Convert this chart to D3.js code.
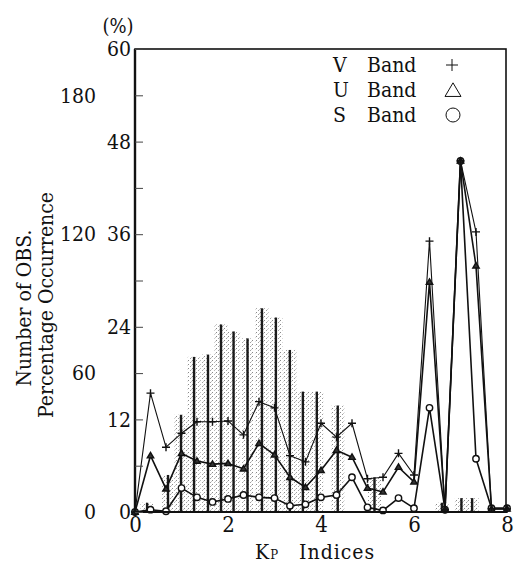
<!DOCTYPE html>
<html><head><meta charset="utf-8">
<script src="https://cdn.jsdelivr.net/npm/d3@7"></script>
<style>
html,body{margin:0;padding:0;background:#fff;}
svg text{fill:#111;font-stretch:condensed;}
</style></head>
<body><svg id="c" width="515" height="564"></svg>
<script>
// ---- data ----
const kpValues = [0,1/3,2/3,1,4/3,5/3,2,7/3,8/3,3,10/3,11/3,4,13/3,14/3,5,16/3,17/3,6,19/3,20/3,7,22/3,23/3,8];
const vBand = [0,15.4,8.4,10.2,11.7,11.7,11.8,10.0,14.3,13.5,7.3,6.5,11.5,9.7,11.5,4.3,4.5,7.6,4.8,35.1,0.3,45.5,36.3,0.4,0.4];
const uBand = [0,7.3,3.0,7.6,6.6,6.2,6.3,5.6,8.9,7.4,4.5,3.2,5.4,8.0,7.1,3.1,2.6,5.8,3.9,29.8,0.3,45.5,31.9,0.4,0.4];
const sBand = [0,0.3,0.1,3.1,1.9,1.3,1.7,2.2,1.9,1.8,0.8,1.0,1.9,2.2,4.5,0.6,0.2,1.8,0.5,13.5,0.3,45.5,6.9,0.5,0.5];
// number of observations histogram (bar centre Kp, count)
const obsKp    = [0.26,0.71,0.99,1.27,1.57,1.85,2.12,2.42,2.73,3.03,3.33,3.61,3.91,4.36,5.15,6.60,7.02,7.25];
const obsCount = [4,16,42,67,68,81,78,75,88,84,70,52,52,46,15,4,6,6];
const xTicks = [0,2,4,6,8];
const pctTicks = [0,6,12,18,24,30,36,42,48,54,60];
const pctLabels = [0,12,24,36,48,60];
const obsTicks = [0,60,120,180];
const legendItems = ["V","U","S"];

// ---- layout ----
const FONT = '"DejaVu Serif Condensed","DejaVu Serif",serif';
const svg = d3.select("#c");
const L=135, R=507, T=49, B=512;
const x = d3.scaleLinear().domain([0,8]).range([L,R]);
const yP = d3.scaleLinear().domain([0,60]).range([B,T]);
const yN = d3.scaleLinear().domain([0,200]).range([B,T]);

const defs = svg.append("defs");
const pat = defs.append("pattern").attr("id","stip").attr("width",4).attr("height",4).attr("patternUnits","userSpaceOnUse");
pat.append("rect").attr("x",0).attr("y",0).attr("width",1).attr("height",1).attr("fill","#8a8a8a");
pat.append("rect").attr("x",2).attr("y",2).attr("width",1).attr("height",1).attr("fill","#a0a0a0");
pat.append("rect").attr("x",3).attr("y",1).attr("width",1).attr("height",1).attr("fill","#c8c8c8");

// bars
const bw = x(0.28)-x(0);
const bars = obsKp.map((k,i)=>({k, n:obsCount[i]}));
svg.append("g").selectAll("rect").data(bars).join("rect")
  .attr("x",d=>x(d.k)-bw/2).attr("width",bw)
  .attr("y",d=>yN(d.n)).attr("height",d=>B-yN(d.n))
  .attr("fill","url(#stip)");
svg.append("g").selectAll("line").data(bars).join("line")
  .attr("x1",d=>x(d.k)).attr("x2",d=>x(d.k))
  .attr("y1",d=>yN(d.n)).attr("y2",B)
  .attr("stroke","#1a1a1a").attr("stroke-width",2.4);

// lines
const series = [
  {name:"V", vals:vBand, w:1.1},
  {name:"U", vals:uBand, w:1.6},
  {name:"S", vals:sBand, w:1.6}
];
const line = d3.line().x(d=>x(d[0])).y(d=>yP(d[1]));
series.forEach(s=>{
  const pts = kpValues.map((k,i)=>[k,s.vals[i]]);
  svg.append("path").attr("d",line(pts)).attr("fill","none").attr("stroke","#111").attr("stroke-width",s.w).attr("stroke-linejoin","round");
});

function marker(g,type,cx,cy,sz,sw,fill){
  if(type==="V"){
    g.append("path").attr("d",`M${cx-sz},${cy}H${cx+sz}M${cx},${cy-sz}V${cy+sz}`).attr("stroke","#111").attr("stroke-width",sw).attr("fill","none");
  } else if(type==="U"){
    const h=sz*1.7;
    g.append("path").attr("d",`M${cx},${cy-h*0.6}L${cx+sz},${cy+h*0.4}L${cx-sz},${cy+h*0.4}Z`).attr("stroke","#111").attr("stroke-width",sw).attr("fill",fill);
  } else {
    g.append("circle").attr("cx",cx).attr("cy",cy).attr("r",sz).attr("stroke","#111").attr("stroke-width",sw).attr("fill","#fff");
  }
}
const mg = svg.append("g");
series.slice().reverse().forEach(s=>{
  kpValues.forEach((k,i)=>marker(mg,s.name,x(k),yP(s.vals[i]),s.name==="V"?4:3.2,1.4,"#333"));
});

// frame
svg.append("rect").attr("x",L).attr("y",T).attr("width",R-1-L).attr("height",B-T).attr("fill","none").attr("stroke","#111").attr("stroke-width",1.6);
svg.append("line").attr("x1",L).attr("x2",L).attr("y1",T).attr("y2",B).attr("stroke","#111").attr("stroke-width",2.4);
svg.append("line").attr("x1",L).attr("x2",R).attr("y1",B).attr("y2",B).attr("stroke","#111").attr("stroke-width",2.2);

function styleText(sel,size){ sel.attr("font-size",size).attr("font-family",FONT).attr("fill","#111"); }

// inner % axis
const ax1 = svg.append("g").attr("transform",`translate(${L},0)`)
  .call(d3.axisLeft(yP).tickValues(pctTicks).tickSizeInner(-8).tickSizeOuter(0).tickPadding(4)
    .tickFormat(d=>pctLabels.includes(d)?d:""));
ax1.attr("font-family",FONT);
ax1.select(".domain").remove();
ax1.selectAll(".tick line").attr("stroke","#444").attr("stroke-width",1);
styleText(ax1.selectAll("text"),21);

// outer obs axis
const ax2 = svg.append("g").attr("transform",`translate(${L},0)`)
  .call(d3.axisLeft(yN).tickValues(obsTicks).tickSize(0).tickPadding(39));
ax2.attr("font-family",FONT);
ax2.select(".domain").remove();
styleText(ax2.selectAll("text"),21);

// x axis
const ax3 = svg.append("g").attr("transform",`translate(0,${B})`)
  .call(d3.axisBottom(x).tickValues(xTicks).tickSize(0).tickPadding(4));
ax3.attr("font-family",FONT);
ax3.select(".domain").remove();
styleText(ax3.selectAll("text"),22);

// (%)
styleText(svg.append("text").attr("x",118).attr("y",33).attr("text-anchor","middle").text("(%)"),20);

// x title
const xt = svg.append("text").attr("x",255).attr("y",559).attr("letter-spacing",1);
styleText(xt,21);
xt.append("tspan").text("K");
xt.append("tspan").attr("font-size",13).text("P");
xt.append("tspan").attr("dx",20).text("Indices");

// y titles
styleText(svg.append("text").attr("transform","translate(31,308) rotate(-90)").attr("text-anchor","middle").text("Number of OBS."),21);
styleText(svg.append("text").attr("transform","translate(53,305) rotate(-90)").attr("text-anchor","middle").text("Percentage Occurrence"),21);

// legend
const lg = svg.append("g");
legendItems.forEach((n,i)=>{
  const by = 72 + i*25;
  styleText(lg.append("text").attr("x",333).attr("y",by).text(n),21);
  styleText(lg.append("text").attr("x",367).attr("y",by).text("Band"),21);
  const g = lg.append("g");
  if(n==="V") marker(g,"V",452,by-7,6,1);
  else if(n==="U") marker(g,"U",453,by-6,8,1,"#fff");
  else marker(g,"S",453,by-7,7,1);
});
</script></body></html>
